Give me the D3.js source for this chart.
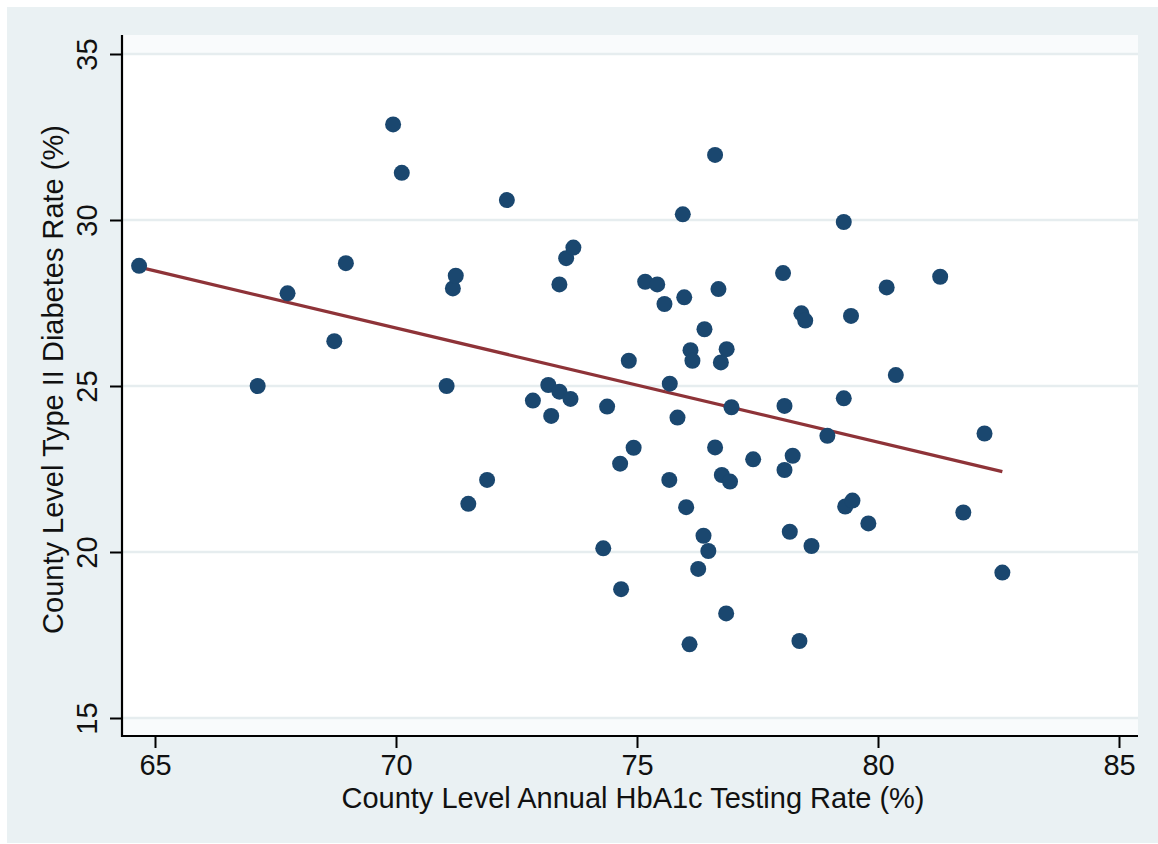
<!DOCTYPE html>
<html>
<head>
<meta charset="utf-8">
<script src="https://cdn.jsdelivr.net/npm/d3@7"></script>
<style>
    body { margin: 0; background: #ffffff; }
    text { font-family: "Liberation Sans", Arial, sans-serif; fill: #111; }
</style>
</head>
<body>
<div id="chart-ctn"></div>
<script>
// Data
let testingRate = [
    64.67, 67.13, 67.75, 68.72, 68.96, 69.94, 70.12, 71.05, 71.18, 71.24,
    71.50, 71.89, 72.30, 72.84, 73.16, 73.22, 73.39, 73.39, 73.53, 73.62,
    73.68, 74.30, 74.38, 74.65, 74.67, 74.83, 74.93, 75.17, 75.42, 75.57,
    75.67, 75.68, 75.84, 75.95, 75.98, 76.02, 76.09, 76.11, 76.15, 76.27,
    76.38, 76.40, 76.48, 76.62, 76.62, 76.69, 76.74, 76.76, 76.85, 76.86,
    76.93, 76.96, 77.41, 78.03, 78.06, 78.06, 78.17, 78.23, 78.37, 78.41,
    78.49, 78.62, 78.95, 79.29, 79.29, 79.32, 79.44, 79.47, 79.80, 80.18,
    80.37, 81.29, 81.77, 82.21, 82.58
];
let diabetesRate = [
    28.62, 25.00, 27.79, 26.35, 28.70, 32.88, 31.42, 25.00, 27.94, 28.32,
    21.45, 22.17, 30.60, 24.56, 25.03, 24.10, 24.83, 28.06, 28.85, 24.61,
    29.17, 20.11, 24.38, 22.66, 18.88, 25.76, 23.14, 28.14, 28.06, 27.47,
    22.17, 25.07, 24.05, 30.17, 27.67, 21.35, 17.22, 26.08, 25.76, 19.49,
    20.49, 26.71, 20.03, 31.96, 23.15, 27.92, 25.71, 22.32, 18.15, 26.11,
    22.12, 24.36, 22.79, 28.40, 24.40, 22.47, 20.61, 22.90, 17.32, 27.19,
    26.97, 20.18, 23.50, 29.94, 24.63, 21.37, 27.11, 21.55, 20.86, 27.97,
    25.33, 28.29, 21.19, 23.57, 19.38
];
// fitted line end points
let fitX = [64.67, 82.58];
let fitY = [28.58, 22.42];

let xTicks = [65, 70, 75, 80, 85];
let yTicks = [15, 20, 25, 30, 35];

let xTitle = "County Level Annual HbA1c Testing Rate (%)";
let yTitle = "County Level Type II Diabetes Rate (%)";

// Page / plot region
let pageW = 1158;
let pageH = 844;
let plot = { left: 122, right: 1138, top: 35, bottom: 736 };

let svg = d3
    .select("#chart-ctn")
    .append("svg")
    .attr("width", pageW)
    .attr("height", pageH);

// graph region background
svg.append("rect")
    .attr("x", 7)
    .attr("y", 7)
    .attr("width", pageW - 7)
    .attr("height", pageH - 8)
    .attr("fill", "#eaf1f3");

let x = d3.scaleLinear().domain([65, 85]).range([155, 1119]);
let y = d3.scaleLinear().domain([15, 35]).range([718, 54]);

// plot region
svg.append("rect")
    .attr("x", plot.left)
    .attr("y", plot.top)
    .attr("width", plot.right - plot.left)
    .attr("height", plot.bottom - plot.top)
    .attr("fill", "#f9fbfc");

svg.append("rect")
    .attr("x", plot.left)
    .attr("y", y(35))
    .attr("width", plot.right - plot.left)
    .attr("height", y(15) - y(35))
    .attr("fill", "#ffffff");

// grid lines
svg.append("g")
    .selectAll("line")
    .data(yTicks)
    .join("line")
    .attr("x1", plot.left)
    .attr("x2", plot.right)
    .attr("y1", (d) => y(d))
    .attr("y2", (d) => y(d))
    .attr("stroke", "#e6edef")
    .attr("stroke-width", 2.5);

// fitted line
svg.append("path")
    .datum(fitX.map((d, i) => [d, fitY[i]]))
    .attr("fill", "none")
    .attr("stroke", "#8e3338")
    .attr("stroke-width", 3.2)
    .attr("d", d3.line().x((d) => x(d[0])).y((d) => y(d[1])));

// points
svg.append("g")
    .selectAll("circle")
    .data(testingRate.map((d, i) => [d, diabetesRate[i]]))
    .join("circle")
    .attr("cx", (d) => x(d[0]))
    .attr("cy", (d) => y(d[1]))
    .attr("r", 8)
    .attr("fill", "#1a476f");

// x axis
let xAxis = d3.axisBottom(x).tickValues(xTicks).tickSize(12).tickPadding(6);
let gx = svg.append("g")
    .attr("transform", `translate(0, ${plot.bottom})`)
    .call(xAxis);
gx.select(".domain").remove();
gx.selectAll(".tick line").attr("stroke", "#000").attr("stroke-width", 2);
gx.selectAll(".tick text")
    .style("font-size", "29px")
    .style("font-family", '"Liberation Sans", Arial, sans-serif')
    .attr("fill", "#111");

svg.append("line")
    .attr("x1", plot.left - 1)
    .attr("x2", plot.right)
    .attr("y1", plot.bottom)
    .attr("y2", plot.bottom)
    .attr("stroke", "#000")
    .attr("stroke-width", 2.2);

// y axis
let yAxis = d3.axisLeft(y).tickValues(yTicks).tickSize(12);
let gy = svg.append("g")
    .attr("transform", `translate(${plot.left}, 0)`)
    .call(yAxis);
gy.select(".domain").remove();
gy.selectAll(".tick line").attr("stroke", "#000").attr("stroke-width", 2);
gy.selectAll(".tick text")
    .attr("x", 0)
    .attr("dy", 0)
    .attr("text-anchor", "middle")
    .attr("transform", "translate(-25, 0) rotate(-90)")
    .style("font-size", "29px")
    .style("font-family", '"Liberation Sans", Arial, sans-serif')
    .attr("fill", "#111");

svg.append("line")
    .attr("x1", plot.left)
    .attr("x2", plot.left)
    .attr("y1", plot.top)
    .attr("y2", plot.bottom + 1)
    .attr("stroke", "#000")
    .attr("stroke-width", 2.2);

// axis titles
svg.append("text")
    .attr("x", (plot.left + plot.right) / 2 + 3)
    .attr("y", 808)
    .attr("text-anchor", "middle")
    .style("font-size", "29px")
    .text(xTitle);

svg.append("text")
    .attr("transform", `translate(63, ${(plot.top + plot.bottom) / 2 - 6}) rotate(-90)`)
    .attr("text-anchor", "middle")
    .style("font-size", "29px")
    .text(yTitle);
</script>
</body>
</html>
